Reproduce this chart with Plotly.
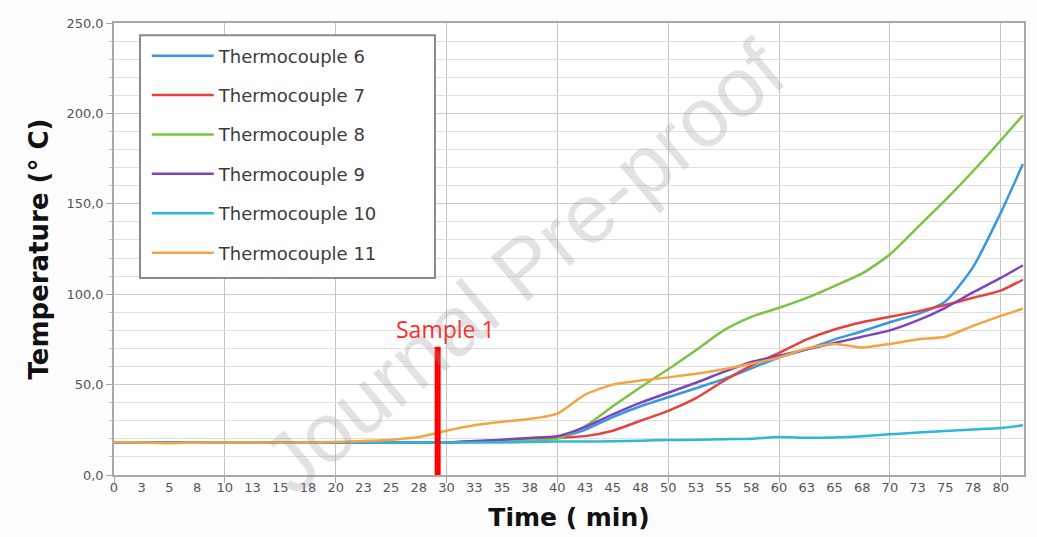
import plotly.graph_objects as go

# ---------------- data ----------------
TIME = [0, 2.5, 5, 7.5, 10, 12.5, 15, 17.5, 20, 22.5, 25, 27.5, 30, 32.5, 35, 37.5,
        40, 42.5, 45, 47.5, 50, 52.5, 55, 57.5, 60, 62.5, 65, 67.5, 70, 72.5, 75, 77.5, 80, 82]

TC6 = [18, 18, 18, 18, 18, 18, 18, 18, 18, 18, 18, 18, 18, 18.5, 19, 19.5,
       20.5, 25, 32, 38, 43, 48, 53, 59, 65, 69.5, 75, 79.5, 84.5, 89, 96, 115, 145, 172]
TC7 = [18, 18, 18, 18, 18, 18, 18, 18, 18, 18, 18, 18, 18, 18.5, 19, 19.5,
       20.5, 21.5, 24.5, 30, 35.5, 42.5, 52, 60.5, 67.5, 75, 80.5, 84.5, 87.5, 90.5, 94, 98, 102, 108]
TC8 = [18, 18, 18, 18, 18, 18, 18, 18, 18, 18, 18, 18, 18, 18.5, 18.8, 19.2,
       20, 27, 38, 48.5, 58.5, 69, 80, 87.5, 92.5, 98, 104.5, 111.5, 122, 137, 152, 168, 185, 199]
TC9 = [18, 18, 18, 18, 18, 18, 18, 18, 18, 18, 18, 18, 18, 18.8, 19.5, 20.5,
       21.5, 26.5, 33.5, 40, 45.5, 51, 57, 62.5, 66, 69.5, 73, 76.5, 80, 85.5, 92.5, 101, 109, 116]
TC10 = [18, 18, 18, 18, 18, 18, 18, 18, 18, 18, 18, 18, 18, 18, 18, 18.2,
        18.5, 18.5, 18.7, 19, 19.3, 19.5, 19.8, 20, 21, 20.6, 20.8, 21.5, 22.5, 23.5, 24.3, 25.2, 26, 27.5]
TC11 = [18.2, 18, 17.6, 17.9, 18, 18, 18, 18, 18.3, 18.8, 19.5, 21, 24.5, 27.5, 29.5, 31,
        34, 44.5, 50, 52.3, 54, 56, 58.5, 61.5, 65, 70, 72.5, 70.5, 72.5, 75, 76.5, 82.5, 88, 92]

SERIES_NAMES = ["Thermocouple 6", "Thermocouple 7", "Thermocouple 8",
                "Thermocouple 9", "Thermocouple 10", "Thermocouple 11"]
SERIES_VALUES = [TC6, TC7, TC8, TC9, TC10, TC11]
SERIES_COLORS = ["#3797e0", "#e8403f", "#7dc242", "#7d44c0", "#2cb8d8", "#f2a541"]

X_TICK_VALUES = [i * 2.5 for i in range(33)]
X_TICK_LABELS = ["0", "3", "5", "8", "10", "13", "15", "18", "20", "23", "25", "28", "30",
                 "33", "35", "38", "40", "43", "45", "48", "50", "53", "55", "58", "60",
                 "63", "65", "68", "70", "73", "75", "78", "80"]
X_GRID_VALUES = [0, 10, 20, 30, 40, 50, 60, 70, 80]

SAMPLE_TIME = 29.2
SAMPLE_LABEL = "Sample 1"

# ---------------- figure ----------------
fig = go.Figure()
for name, vals, col in zip(SERIES_NAMES, SERIES_VALUES, SERIES_COLORS):
    fig.add_trace(go.Scatter(
        x=TIME, y=vals, name=name, mode="lines",
        line=dict(color=col, width=2.5, shape="spline", smoothing=0.6),
        legendgroup=name,
    ))

# legend frame
fig.add_shape(type="rect", xref="paper", yref="paper",
              x0=0.0286, x1=0.3527, y0=0.436, y1=0.973,
              line=dict(color="#8a8a8a", width=2), fillcolor="white", layer="above")

# sample marker
fig.add_shape(type="line", xref="x", yref="y",
              x0=SAMPLE_TIME, x1=SAMPLE_TIME, y0=-3, y1=71,
              line=dict(color="#ff0000", width=6), layer="above")
fig.add_annotation(x=SAMPLE_TIME + 0.7, y=80.5, xref="x", yref="y", text=SAMPLE_LABEL,
                   showarrow=False, font=dict(family="Open Sans", size=23, color="#ff2a2a"))

# watermark
fig.add_annotation(x=0.45, y=0.46, xref="paper", yref="paper", text="Journal Pre-proof",
                   showarrow=False, textangle=-40,
                   font=dict(family="Liberation Sans", size=84, color="rgba(150,150,150,0.28)"))

fig.update_layout(
    width=1037, height=537,
    margin=dict(l=114, r=13, t=23, b=62),
    paper_bgcolor="#fdfdfd", plot_bgcolor="white",
    separators=",.",
    showlegend=True,
    legend=dict(x=0.036, y=0.968, xanchor="left", yanchor="top",
                bgcolor="rgba(0,0,0,0)", borderwidth=0,
                font=dict(family="DejaVu Sans", size=18, color="#3c3c3c"),
                tracegroupgap=13, itemwidth=62, traceorder="grouped"),
    font=dict(family="DejaVu Sans"),
)

fig.update_xaxes(
    range=[0, 82.1], automargin=False,
    tickmode="array", tickvals=X_TICK_VALUES, ticktext=X_TICK_LABELS,
    tickfont=dict(family="DejaVu Sans", size=13, color="#555555"),
    ticks="", showgrid=False, zeroline=False,
    showline=True, linecolor="#a8a8a8", linewidth=1.5, mirror=True,
    minor=dict(tickmode="array", tickvals=X_GRID_VALUES, showgrid=True,
               gridcolor="#c4c4c4", gridwidth=1.2, ticks="outside", ticklen=6, tickcolor="#a8a8a8"),
    title=dict(text="<b>Time ( min)</b>", standoff=14,
               font=dict(family="DejaVu Sans", size=25, color="#111111")),
)
fig.update_yaxes(
    range=[0, 250], dtick=50, tickformat=".1f", automargin=False,
    tickfont=dict(family="DejaVu Sans", size=13, color="#555555"),
    ticks="outside", ticklen=6, tickcolor="#a8a8a8",
    showgrid=True, gridcolor="#c8c8c8", gridwidth=1.2, zeroline=False,
    showline=True, linecolor="#a8a8a8", linewidth=1.5, mirror=True,
    minor=dict(dtick=10, showgrid=True, gridcolor="#e0e0e0", gridwidth=1,
               ticks="outside", ticklen=3, tickcolor="#c0c0c0"),
    title=dict(text="<b>Temperature (° C)</b>", standoff=10,
               font=dict(family="DejaVu Sans", size=26, color="#111111")),
)

fig.write_html("out.html")
